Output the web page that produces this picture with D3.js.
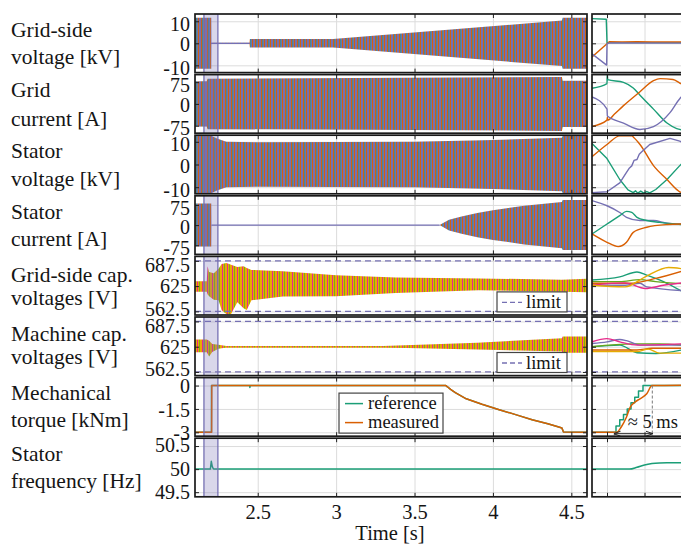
<!DOCTYPE html>
<html>
<head>
<meta charset="utf-8">
<title>Fault ride-through</title>
<script src="https://d3js.org/d3.v7.min.js"></script>
<style>
  body { margin: 0; background: #fff; }
</style>
</head>
<body>
<div id="chart"></div>
<script>
// ---------- data ----------
const timeTicks = [2.5, 3, 3.5, 4, 4.5];
const timeDomain = [2.1, 4.6];
const zoomTicks = [2, 7, 12];          // ms inside the zoom window
const zoomDomain = [0, 12];
const shadeSpan = [2.157, 2.246];

const rowLabels = [
  ["Grid-side", "voltage [kV]"], ["Grid", "current [A]"],
  ["Stator", "voltage [kV]"], ["Stator", "current [A]"],
  ["Grid-side cap.", "voltages [V]"], ["Machine cap.", "voltages [V]"],
  ["Mechanical", "torque [kNm]"], ["Stator", "frequency [Hz]"]
];
const yTicks = [[10, 0, -10], [75, 0, -75], [10, 0, -10], [75, 0, -75],
  [687.5, 625, 562.5], [687.5, 625, 562.5], [0, -1.5, -3], [50.5, 50, 49.5]];
const yDomains = [[-13.3, 13.3], [-101, 101], [-12.9, 12.9], [-109, 109],
  [553.5, 698.5], [553.5, 698.5], [-3.25, 0.51], [49.4, 50.67]];
const capLimits = [687.5, 562.5];

// envelopes of the 50 Hz three-phase waveforms (amplitude)
const gridVoltT   = [2.1, 2.204, 2.205, 2.448, 2.45, 2.98, 4.44, 4.445, 4.6];
const gridVoltAmp = [11.6, 11.6, 0.3, 0.3, 1.9, 1.9, 10.3, 11.6, 11.6];
const gridCurT    = [2.1, 2.175, 2.18, 4.44, 4.445, 4.6];
const gridCurAmp  = [78, 78, 87, 93, 80, 80];
const statVoltT   = [2.1, 2.2, 2.24, 2.3, 2.5, 3.5, 4.0, 4.44, 4.445, 4.6];
const statVoltAmp = [13, 12.8, 11.5, 10.0, 9.8, 10.0, 10.8, 11.8, 12.5, 12.6];
const statCurT    = [2.1, 2.204, 2.205, 3.66, 3.72, 3.8, 3.9, 4.0, 4.2, 4.44, 4.445, 4.6];
const statCurAmp  = [80, 80, 0, 0, 20, 32, 45, 55, 72, 86, 93, 93];

// capacitor voltage bands (lower / upper)
const gscT  = [2.1, 2.175, 2.18, 2.19, 2.22, 2.25, 2.27, 2.30, 2.33, 2.37, 2.41, 2.43, 2.46, 2.66, 3.0, 3.38, 3.91, 4.44, 4.6];
const gscLo = [611, 611, 605, 600, 591, 590, 565, 556, 556, 585, 570, 566, 590, 599, 600, 608, 615, 611, 610];
const gscHi = [637, 637, 674, 660, 657, 668, 680, 682, 678, 672, 674, 670, 665, 662, 652, 646, 644, 641, 643];
const mscT  = [2.1, 2.175, 2.19, 2.21, 2.25, 2.3, 3.3, 3.9, 4.44, 4.445, 4.6];
const mscLo = [611, 611, 601, 612, 620, 623, 623, 618, 613, 610, 610];
const mscHi = [643, 643, 640, 632, 630, 627, 627, 635, 646, 650, 650];

// quiet stretches drawn as single lines
const gridVoltFlat = [[2.205, 0], [2.45, 0]];
const statCurFlat  = [[2.205, 0], [3.66, 0]];
const mscFlat      = [[2.22, 625], [4.6, 625]];

// torque and frequency, main window
const torqueRef  = [[2.1, -3], [2.205, -3], [2.2051, 0], [2.449, 0], [2.45, -0.12], [2.452, 0], [3.70, 0], [3.71, -0.08], [3.73, -0.25], [3.76, -0.45], [3.83, -0.85], [3.93, -1.2], [4.04, -1.55], [4.15, -1.88], [4.25, -2.19], [4.35, -2.45], [4.42, -2.66], [4.44, -2.72], [4.45, -2.98], [4.6, -3]];
const torqueMeas = [[2.1, -3], [2.206, -3], [2.2071, 0], [3.70, 0], [3.71, -0.08], [3.73, -0.25], [3.76, -0.45], [3.83, -0.85], [3.93, -1.2], [4.04, -1.55], [4.15, -1.88], [4.25, -2.19], [4.35, -2.45], [4.42, -2.66], [4.44, -2.72], [4.45, -2.98], [4.6, -3]];
const freqMain   = [[2.1, 50], [2.198, 50], [2.204, 50.17], [2.21, 50.06], [2.215, 50.02], [2.22, 50], [4.6, 50]];

// zoom window (ms, value)
const zGvGreen  = [[0, 11.2], [1.9, 10.9], [2.0, 0.3], [12, 0.3]];
const zGvOrange = [[0, -6.2], [2.0, -0.2], [2.3, 0.7], [4, 0.6], [6, 0.7], [8, 0.6], [12, 0.6]];
const zGvPurple = [[0, -4.8], [1.95, -9.9], [2.0, -0.3], [2.3, 0.2], [12, 0.1]];
const zGcGreen  = [[0, 54], [2.0, 70], [2.03, 103], [2.1, 84], [4.2, 74], [5.5, 55], [6.4, 30], [8.2, -18], [10, -66], [11.3, -85], [12, -90]];
const zGcOrange = [[0, -78], [2.0, -56], [2.05, -46], [2.1, -56], [3, -35], [4.2, -6], [6.4, 42], [8.2, 80], [9.1, 87], [10.8, 84], [11.7, 72], [12, 68]];
const zGcPurple = [[0, 24], [2.0, -18], [2.05, -42], [4.2, -66], [6.4, -88], [8.2, -78], [10.4, -30], [11.7, 18], [12, 26]];
const zSvGreen  = [[0, 9.2], [2, 2.6], [3.7, -6.6], [4.8, -11.2], [5.5, -12.4], [5.8, -11.6], [6.1, -12.6], [6.5, -11.7], [6.9, -12.6], [7.3, -11.9], [7.7, -12.5], [8.5, -11], [10, -6.6], [11.7, -0.5], [12, 0.5]];
const zSvOrange = [[0, 3.4], [2, 8.8], [3.7, 12.6], [5.3, 12.6], [5.6, 11.8], [6.4, 8.8], [8.2, -0.5], [10, -6.6], [11.7, -12], [12, -12.4]];
const zSvPurple = [[0, -12.4], [2, -12], [3.7, -8.1], [4.6, -3.5], [5.0, -1.5], [5.3, -0.6], [5.6, 1.8], [6.0, 2.2], [6.3, 4.5], [6.6, 5.5], [7.7, 8.8], [10.4, 11.5], [11.7, 10.3], [12, 9.8]];
const zScPurple = [[0, 91], [2, 72], [3.7, 47], [4.6, 29], [6.4, 17], [8.2, 17], [10, 7], [12, 4]];
const zScGreen  = [[0, -33], [2, 4], [3.7, 35], [4.6, 51], [5.3, 47], [6, 29], [7.3, 17], [9, 10], [12, 2]];
const zScOrange = [[0, -33], [2, -64], [3.5, -80], [4.6, -64], [5.5, -27], [7.3, -8], [10, 2], [12, 4]];
const zGscYellow = [[0, 627], [4.4, 623], [7.1, 648], [10.2, 671], [12, 668]];
const zGscTeal   = [[0, 640], [3.7, 648], [6, 660], [7.3, 652], [10, 632], [12, 612]];
const zGscGreen  = [[0, 636], [3.7, 636], [6.4, 641], [8.5, 636], [12, 631]];
const zGscOrange = [[0, 632], [5, 632], [8.5, 644], [12, 662]];
const zGscPink   = [[0, 627], [4.4, 633], [7.1, 619], [9.5, 627], [12, 633]];
const zGscPurple = [[0, 627], [4.4, 627], [6.4, 632], [7.3, 623], [12, 614]];
const zMscPink   = [[0, 637], [2, 645], [3.7, 637], [6, 629], [12, 632]];
const zMscPurple = [[0, 633], [2, 637], [3.7, 643], [4.6, 640], [6.4, 629], [12, 629]];
const zMscTeal   = [[0, 625], [3.7, 629], [6, 610], [8.5, 608], [12, 617]];
const zMscOrange = [[0, 617], [6, 617], [8, 621], [12, 621]];
const zMscYellow = [[0, 613], [6, 613], [7.5, 619], [9, 609], [12, 609]];
const zMscGreen  = [[0, 625], [5.5, 632], [9, 632], [12, 629]];
const zTorqueRef  = [[0, -3], [3.2, -2.6], [3.7, -2.2], [4.2, -1.85], [4.7, -1.5], [5.2, -1.1], [5.7, -0.75], [6.2, -0.35], [6.8, 0], [12, 0]];
const zTorqueMeas = [[0, -3], [3.3, -3], [3.9, -2.66], [4.6, -2.02], [5.1, -1.38], [5.7, -1.07], [6.4, -0.85], [7.3, -0.53], [8.0, 0], [12, 0.02]];
const zFreq = [[0, 50], [5.0, 50], [6, 50.04], [7, 50.09], [8, 50.12], [9, 50.135], [10, 50.14], [12, 50.14]];
const delayMarks = [2.97, 8.04];   // ms, the "≈5 ms" arrow

// ---------- layout ----------
const C = { teal: "#1b9e77", orange: "#d95f02", purple: "#7570b3", pink: "#e7298a", green: "#66a61e", yellow: "#e6ab02" };
const FONT = "Liberation Serif";
const INK = "#151515";
const xMain = d3.scaleLinear().domain(timeDomain).range([195, 587]);
const xZoom = d3.scaleLinear().domain(zoomDomain).range([592, 682]);
const rowTop = i => 14 + i * 60.6;
const rowH = 58.6;
const labelDy = [[22.5, 49.5], [22.5, 51], [23, 51], [23, 50], [25.5, 48.5], [24, 47], [22.5, 49.5], [23, 50]];
// small vertical offsets of the tick labels (top, middle, bottom), as placed in the figure
const tickNudge = [[2, 0.4, 2.4], [2.2, 1, 2], [2.2, 1.2, 2.1], [2.8, 1.6, 2.7], [4, 0, -3], [4, 0, -3], [0, 1, 0], [-1, 0, 0]];

const svg = d3.select("#chart").append("svg").attr("width", 681).attr("height", 547)
  .attr("font-family", FONT);
const defs = svg.append("defs");
const label = (sel, size) => sel.attr("font-family", FONT).attr("font-size", size).attr("fill", INK);

// crisp stripes standing in for the dense 50 Hz oscillation
const phase = defs.append("pattern").attr("id", "phaseStripes")
  .attr("patternUnits", "userSpaceOnUse").attr("width", 6).attr("height", 20);
phase.append("rect").attr("width", 6).attr("height", 20).attr("fill", C.purple);
phase.append("rect").attr("x", 0).attr("width", 0.9).attr("height", 20).attr("fill", C.orange);
phase.append("rect").attr("x", 3).attr("width", 0.9).attr("height", 20).attr("fill", C.orange);
phase.append("rect").attr("x", 4.5).attr("width", 0.6).attr("height", 20).attr("fill", C.teal);

const caps = defs.append("pattern").attr("id", "capStripes")
  .attr("patternUnits", "userSpaceOnUse").attr("width", 5).attr("height", 20);
caps.append("rect").attr("width", 5).attr("height", 20).attr("fill", C.yellow);
caps.append("rect").attr("x", 2).attr("width", 1).attr("height", 20).attr("fill", C.pink);
caps.append("rect").attr("x", 4).attr("width", 0.8).attr("height", 20).attr("fill", C.green);

const fmt = d => String(d);

function panel(i, x, key) {
  const y0 = rowTop(i), y1 = y0 + rowH;
  const [x0, x1] = x.range();
  const y = d3.scaleLinear().domain(yDomains[i]).range([y1, y0]);
  const g = svg.append("g");
  defs.append("clipPath").attr("id", "clip" + key + i)
    .append("rect").attr("x", x0).attr("y", y0).attr("width", x1 - x0).attr("height", rowH);

  const xt = key === "m" ? timeTicks : zoomTicks;
  g.append("g").attr("transform", `translate(0,${y1})`)
    .call(d3.axisBottom(x).tickValues(xt).tickSize(-rowH).tickFormat(""))
    .call(a => a.select(".domain").remove())
    .selectAll("line").attr("stroke", "#dcdcdc");
  g.append("g").attr("transform", `translate(${x0},0)`)
    .call(d3.axisLeft(y).tickValues(yTicks[i]).tickSize(-(x1 - x0)).tickFormat(""))
    .call(a => a.select(".domain").remove())
    .selectAll("line").attr("stroke", "#dcdcdc");

  const data = g.append("g").attr("clip-path", `url(#clip${key}${i})`);
  return { g, data, x, y, y0, y1, x0, x1 };
}

function finish(p, i, key) {
  const { g, x, y, y0, y1, x0, x1 } = p;
  if (key === "m") {
    const sx0 = x(shadeSpan[0]), sx1 = x(shadeSpan[1]);
    g.append("rect").attr("x", sx0).attr("y", y0).attr("width", sx1 - sx0).attr("height", rowH)
      .attr("fill", C.purple).attr("fill-opacity", 0.28);
    [sx0, sx1].forEach(sx => g.append("line").attr("x1", sx).attr("x2", sx).attr("y1", y0).attr("y2", y1)
      .attr("stroke", C.purple).attr("stroke-width", 1.3));
  }
  // inward tick marks
  const xt = key === "m" ? timeTicks : zoomTicks;
  g.append("g").attr("transform", `translate(0,${y1})`)
    .call(d3.axisBottom(x).tickValues(xt).tickSizeInner(-4).tickSizeOuter(0).tickFormat(""))
    .call(a => a.select(".domain").remove()).selectAll("line").attr("stroke", "#222");
  g.append("g").attr("transform", `translate(0,${y0})`)
    .call(d3.axisTop(x).tickValues(xt).tickSizeInner(-4).tickSizeOuter(0).tickFormat(""))
    .call(a => a.select(".domain").remove()).selectAll("line").attr("stroke", "#222");
  g.append("g").attr("transform", `translate(${x0},0)`)
    .call(d3.axisLeft(y).tickValues(yTicks[i]).tickSizeInner(-4).tickSizeOuter(0).tickFormat(""))
    .call(a => a.select(".domain").remove()).selectAll("line").attr("stroke", "#222");
  if (key === "m") {
    g.append("g").attr("transform", `translate(${x1},0)`)
      .call(d3.axisRight(y).tickValues(yTicks[i]).tickSizeInner(-4).tickSizeOuter(0).tickFormat(""))
      .call(a => a.select(".domain").remove()).selectAll("line").attr("stroke", "#222");
    g.append("g").attr("transform", `translate(${x0},0)`)
      .call(d3.axisLeft(y).tickValues(yTicks[i]).tickSize(0).tickPadding(5).tickFormat(fmt))
      .call(a => a.select(".domain").remove())
      .attr("font-family", FONT).attr("font-size", 20)
      .selectAll("text").call(label, 20)
      .attr("dy", (d, k) => tickNudge[i][k] + 6.8);
  }
  g.append("rect").attr("x", x0).attr("y", y0).attr("width", x1 - x0).attr("height", rowH)
    .attr("fill", "none").attr("stroke", "#1a1a1a").attr("stroke-width", 1.7);
}

const band = (p, t, lo, hi, fill) => p.data.append("path")
  .datum(d3.range(t.length))
  .attr("fill", fill)
  .attr("d", d3.area().x(k => p.x(t[k])).y0(k => p.y(lo[k])).y1(k => p.y(hi[k])));
const symBand = (p, t, amp, fill) => band(p, t, amp.map(a => -a), amp, fill);
const line = (p, pts, color, w, curve) => p.data.append("path").datum(pts)
  .attr("fill", "none").attr("stroke", color).attr("stroke-width", w || 1.4)
  .attr("stroke-linejoin", "round")
  .attr("d", d3.line().x(d => p.x(d[0])).y(d => p.y(d[1])).curve(curve || d3.curveLinear));
const limits = p => capLimits.forEach(v => p.data.append("line")
  .attr("x1", p.x0).attr("x2", p.x1).attr("y1", p.y(v)).attr("y2", p.y(v))
  .attr("stroke", C.purple).attr("stroke-width", 1.3).attr("stroke-dasharray", "6,4"));

// ---------- main window ----------
const mains = d3.range(8).map(i => panel(i, xMain, "m"));
symBand(mains[0], gridVoltT, gridVoltAmp, "url(#phaseStripes)");
line(mains[0], gridVoltFlat, C.purple, 1.3);
symBand(mains[1], gridCurT, gridCurAmp, "url(#phaseStripes)");
symBand(mains[2], statVoltT, statVoltAmp, "url(#phaseStripes)");
symBand(mains[3], statCurT, statCurAmp, "url(#phaseStripes)");
line(mains[3], statCurFlat, C.purple, 1.3);
band(mains[4], gscT, gscLo, gscHi, "url(#capStripes)");
limits(mains[4]);
line(mains[5], mscFlat, C.yellow, 1.4);
band(mains[5], mscT, mscLo, mscHi, "url(#capStripes)");
limits(mains[5]);
line(mains[6], torqueRef, C.teal, 1.5);
line(mains[6], torqueMeas, C.orange, 1.5);
line(mains[7], freqMain, C.teal, 1.5);

// ---------- zoom window ----------
const zooms = d3.range(8).map(i => panel(i, xZoom, "z"));
line(zooms[0], zGvGreen, C.teal); line(zooms[0], zGvOrange, C.orange); line(zooms[0], zGvPurple, C.purple);
line(zooms[1], zGcGreen, C.teal, 1.4, d3.curveMonotoneX); line(zooms[1], zGcOrange, C.orange, 1.4, d3.curveMonotoneX); line(zooms[1], zGcPurple, C.purple, 1.4, d3.curveMonotoneX);
line(zooms[2], zSvGreen, C.teal); line(zooms[2], zSvOrange, C.orange, 1.4, d3.curveMonotoneX); line(zooms[2], zSvPurple, C.purple);
line(zooms[3], zScPurple, C.purple, 1.4, d3.curveMonotoneX); line(zooms[3], zScGreen, C.teal, 1.4, d3.curveMonotoneX); line(zooms[3], zScOrange, C.orange, 1.4, d3.curveMonotoneX);
[[zGscTeal, C.teal], [zGscGreen, C.green], [zGscPurple, C.purple], [zGscOrange, C.orange], [zGscPink, C.pink], [zGscYellow, C.yellow]]
  .forEach(([d, c]) => line(zooms[4], d, c, 1.4, d3.curveMonotoneX));
limits(zooms[4]);
[[zMscTeal, C.teal], [zMscGreen, C.green], [zMscPurple, C.purple], [zMscOrange, C.orange], [zMscPink, C.pink], [zMscYellow, C.yellow]]
  .forEach(([d, c]) => line(zooms[5], d, c, 1.4, d3.curveMonotoneX));
limits(zooms[5]);
line(zooms[6], zTorqueRef, C.teal, 1.5, d3.curveStepAfter);
line(zooms[6], zTorqueMeas, C.orange, 1.5, d3.curveMonotoneX);
line(zooms[7], zFreq, C.teal, 1.5, d3.curveMonotoneX);

// "≈5 ms" delay marker
{
  const p = zooms[6];
  const ya = p.y1 - 2.5;
  defs.append("marker").attr("id", "arrowHead").attr("viewBox", "0 0 10 10").attr("refX", 9).attr("refY", 5)
    .attr("markerWidth", 7).attr("markerHeight", 7).attr("orient", "auto-start-reverse")
    .append("path").attr("d", "M0,1.5 L10,5 L0,8.5").attr("fill", "none").attr("stroke", "#222").attr("stroke-width", 1.4);
  p.g.append("line").attr("x1", xZoom(delayMarks[0])).attr("x2", xZoom(delayMarks[0]))
    .attr("y1", p.y(-3)).attr("y2", p.y1).attr("stroke", "#777").attr("stroke-dasharray", "3,2");
  p.g.append("line").attr("x1", xZoom(delayMarks[1])).attr("x2", xZoom(delayMarks[1]))
    .attr("y1", p.y(0)).attr("y2", p.y1).attr("stroke", "#777").attr("stroke-dasharray", "3,2");
  p.g.append("line").attr("x1", xZoom(delayMarks[0])).attr("x2", xZoom(delayMarks[1]))
    .attr("y1", ya).attr("y2", ya).attr("stroke", "#222").attr("stroke-width", 1)
    .attr("marker-start", "url(#arrowHead)").attr("marker-end", "url(#arrowHead)");
  p.g.append("text").attr("x", xZoom(4.75)).attr("y", p.y(-2.75)).call(label, 18.5).text("≈ 5 ms");
}

// frames after data so borders and shade sit on top
mains.forEach((p, i) => finish(p, i, "m"));
zooms.forEach((p, i) => finish(p, i, "z"));

// limit legends
[4, 5].forEach(i => {
  const p = mains[i];
  const g = svg.append("g").attr("transform", `translate(497,${p.y0 + 35.5})`);
  g.append("rect").attr("width", 70).attr("height", 20).attr("fill", "#fff").attr("stroke", "#444").attr("stroke-width", 1.2);
  g.append("line").attr("x1", 5).attr("x2", 25).attr("y1", 10.5).attr("y2", 10.5)
    .attr("stroke", C.purple).attr("stroke-width", 1.3).attr("stroke-dasharray", "5,3");
  g.append("text").attr("x", 29).attr("y", 16).call(label, 18.5).text("limit");
});

// torque legend
{
  const p = mains[6];
  const g = svg.append("g").attr("transform", `translate(339,${p.y0 + 15.5})`);
  g.append("rect").attr("width", 104).attr("height", 40).attr("fill", "#fff").attr("stroke", "#444").attr("stroke-width", 1.2);
  [["reference", C.teal, 10.5], ["measured", C.orange, 29.5]].forEach(([name, c, yy]) => {
    g.append("line").attr("x1", 6).attr("x2", 24).attr("y1", yy).attr("y2", yy).attr("stroke", c).attr("stroke-width", 1.5);
    g.append("text").attr("x", 29).attr("y", yy + 5.5).call(label, 18.5).text(name);
  });
}

// time axis labels
svg.append("g").attr("transform", `translate(0,${mains[7].y1})`)
  .call(d3.axisBottom(xMain).tickValues(timeTicks).tickSize(0).tickPadding(8).tickFormat(fmt))
  .call(a => a.select(".domain").remove())
  .attr("font-family", FONT).attr("font-size", 20.5)
  .selectAll("text").call(label, 20.5);
svg.append("text").attr("x", 390).attr("y", 540).attr("text-anchor", "middle").call(label, 20.5).text("Time [s]");

// row labels
rowLabels.forEach((lines, i) => lines.forEach((txt, k) =>
  svg.append("text").attr("x", 11).attr("y", rowTop(i) + labelDy[i][k]).call(label, 21.5).text(txt)));
</script>
</body>
</html>
